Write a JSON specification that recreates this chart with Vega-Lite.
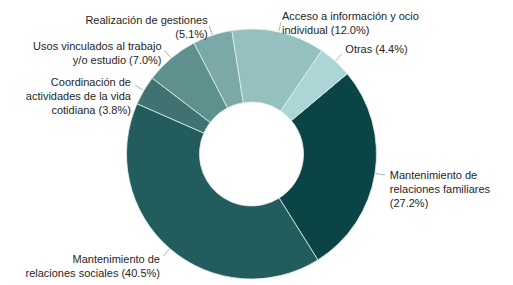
{
  "$schema": "https://vega.github.io/schema/vega-lite/v6.json",
  "autosize": "none",
  "width": 503,
  "height": 262,
  "padding": {"left": 0, "top": 23, "right": 10, "bottom": 0},
  "background": "white",
  "view": {"stroke": null},
  "data": {
    "values": [
      {"orden": 1, "categoria": "Mantenimiento de relaciones familiares", "porcentaje": 27.2, "etiqueta": "Mantenimiento de\nrelaciones familiares\n(27.2%)"},
      {"orden": 2, "categoria": "Mantenimiento de relaciones sociales", "porcentaje": 40.5, "etiqueta": "Mantenimiento de\nrelaciones sociales (40.5%)"},
      {"orden": 3, "categoria": "Coordinación de actividades de la vida cotidiana", "porcentaje": 3.8, "etiqueta": "Coordinación de\nactividades de la vida\ncotidiana (3.8%)"},
      {"orden": 4, "categoria": "Usos vinculados al trabajo y/o estudio", "porcentaje": 7.0, "etiqueta": "Usos vinculados al trabajo\ny/o estudio (7.0%)"},
      {"orden": 5, "categoria": "Realización de gestiones", "porcentaje": 5.1, "etiqueta": "Realización de gestiones\n(5.1%)"},
      {"orden": 6, "categoria": "Acceso a información y ocio individual", "porcentaje": 12.0, "etiqueta": "Acceso a información y ocio\nindividual (12.0%)"},
      {"orden": 7, "categoria": "Otras", "porcentaje": 4.4, "etiqueta": "Otras (4.4%)"}
    ]
  },
  "encoding": {
    "theta": {"field": "porcentaje", "type": "quantitative", "stack": true, "scale": {"range": [0.8727, 7.1559]}},
    "order": {"field": "orden", "type": "quantitative"}
  },
  "layer": [
    {
      "mark": {"type": "arc", "innerRadius": 52, "outerRadius": 125, "stroke": "#e3eeee", "strokeWidth": 0.8},
      "encoding": {
        "color": {
          "field": "categoria",
          "type": "nominal",
          "legend": null,
          "scale": {
            "domain": ["Mantenimiento de relaciones familiares", "Mantenimiento de relaciones sociales", "Coordinación de actividades de la vida cotidiana", "Usos vinculados al trabajo y/o estudio", "Realización de gestiones", "Acceso a información y ocio individual", "Otras"],
            "range": ["#0a4444", "#235c5c", "#3e7371", "#5e908d", "#7ba9a7", "#94c0be", "#acd6d5"]
          }
        }
      }
    },
    {
      "mark": {"type": "arc", "innerRadius": 126, "outerRadius": 135, "padAngle": 3, "filled": false, "stroke": "#a9c0c0", "strokeWidth": 0.8}
    },
    {
      "mark": {"type": "text", "radius": 140, "align": "left", "baseline": "middle", "lineBreak": "\n", "font": "Liberation Sans", "fontSize": 11, "lineHeight": 14, "color": "#262626"},
      "encoding": {
        "text": {"condition": {"test": "datum.orden == 1 || datum.orden >= 6", "field": "etiqueta"}, "value": ""}
      }
    },
    {
      "mark": {"type": "text", "radius": 140, "align": "right", "baseline": "middle", "lineBreak": "\n", "font": "Liberation Sans", "fontSize": 11, "lineHeight": 14, "color": "#262626"},
      "encoding": {
        "text": {"condition": {"test": "datum.orden >= 2 && datum.orden <= 5", "field": "etiqueta"}, "value": ""}
      }
    }
  ]
}
